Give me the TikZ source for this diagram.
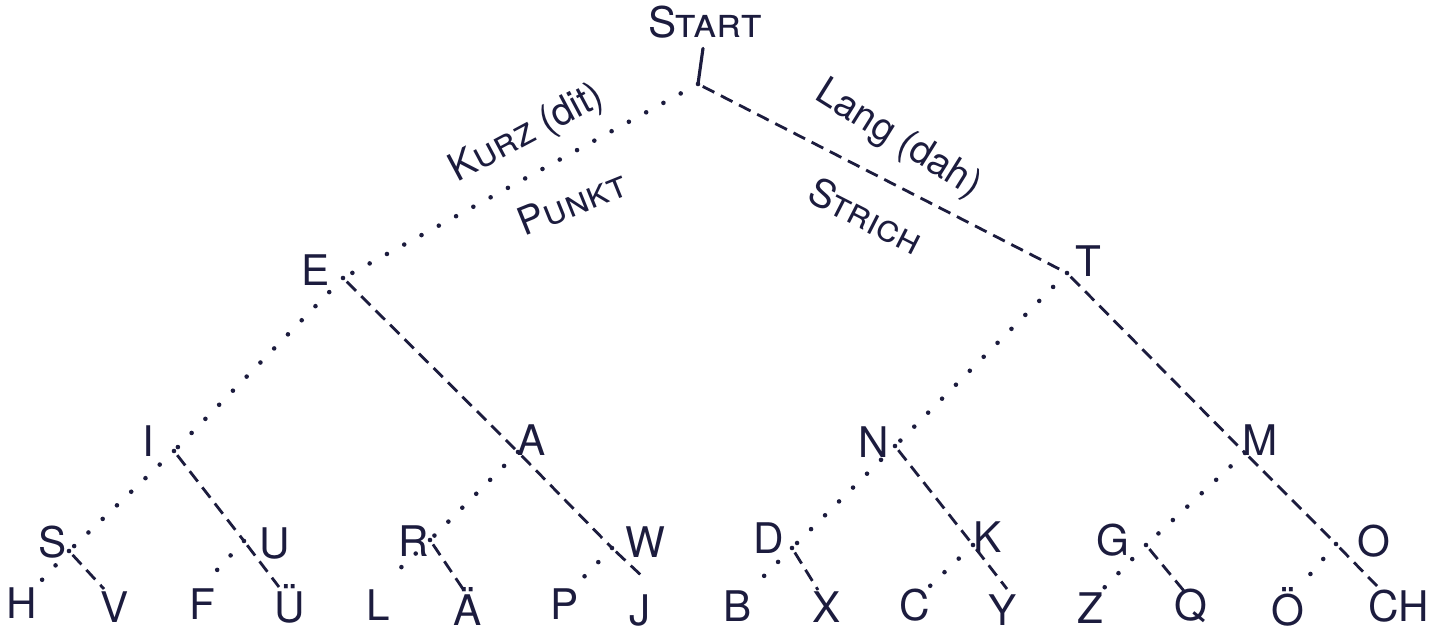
\documentclass[tikz,border=0pt]{standalone}
\usepackage{fontspec}
\setmainfont{TeX Gyre Heros}
\usepackage{tikz}
\usepackage{xcolor}
\usetikzlibrary{positioning}

\definecolor{ink}{RGB}{28,28,62}

\begin{document}
\begin{tikzpicture}[
    x=0.01cm, y=-0.01cm,
    font=\fontsize{12}{14}\selectfont,
    letter_label/.style={text=ink, inner sep=1pt},
    note_text/.style={text=ink, inner sep=1pt, font=\fontsize{11}{13}\selectfont},
    stem_line/.style={draw=ink, line width=0.9pt, line cap=round},
    dot_line/.style={draw=ink, line width=1.3pt, line cap=round, dash pattern=on 0pt off 5.6pt},
    dash_line/.style={draw=ink, line width=0.8pt, dash pattern=on 3.7pt off 2.1pt, shorten <=1.5pt}
]
\useasboundingbox (0,0) rectangle (1442,637);

% Junctions of the tree
\coordinate (root) at (698,84);
\coordinate (e) at (343,278);
\coordinate (t) at (1067,273);
\coordinate (i) at (174,451);
\coordinate (a) at (518,452);
\coordinate (n) at (895,446);
\coordinate (m) at (1245,453);
\coordinate (s) at (69,551);
\coordinate (u) at (244,541);
\coordinate (r) at (430,540);
\coordinate (w) at (612,548);
\coordinate (d) at (792,548);
\coordinate (k) at (973,545);
\coordinate (g) at (1146,545);
\coordinate (o) at (1336,544);

% Ends of the last branches
\coordinate (h_end) at (40,582);
\coordinate (v_end) at (104,589);
\coordinate (f_end) at (205,583);
\coordinate (ue_end) at (279,587);
\coordinate (l_end) at (391,577);
\coordinate (ae_end) at (463,589);
\coordinate (p_end) at (578,583);
\coordinate (j_end) at (644,578);
\coordinate (b_end) at (762,578);
\coordinate (x_end) at (818,590);
\coordinate (c_end) at (930,586);
\coordinate (y_end) at (1007,589);
\coordinate (z_end) at (1102,590);
\coordinate (q_end) at (1184,591);
\coordinate (oe_end) at (1307,578);
\coordinate (ch_end) at (1377,586);

% Start
\node[letter_label] (start) at (705,22) {\textsc{Start}};
\draw[stem_line] (start.south) ++(-2,6) -- (root);

% Letters
\node[letter_label] (lbl_e) at (316,270) {E};
\node[letter_label] (lbl_t) at (1088,261) {T};
\node[letter_label] (lbl_i) at (148,441) {I};
\node[letter_label] (lbl_a) at (532,440) {A};
\node[letter_label] (lbl_n) at (874,442) {N};
\node[letter_label] (lbl_m) at (1260,440) {M};
\node[letter_label] (lbl_s) at (53,542) {S};
\node[letter_label] (lbl_u) at (275,543) {U};
\node[letter_label] (lbl_r) at (414,541) {R};
\node[letter_label] (lbl_w) at (645,542) {W};
\node[letter_label] (lbl_d) at (769,538) {D};
\node[letter_label] (lbl_k) at (988,537) {K};
\node[letter_label] (lbl_g) at (1113,540) {G};
\node[letter_label] (lbl_o) at (1374,541) {O};

\node[letter_label] (lbl_h) at (22,603) {H};
\node[letter_label] (lbl_v) at (115,607) {V};
\node[letter_label] (lbl_f) at (202,604) {F};
\node[letter_label] (lbl_ue) at (290,604) {Ü};
\node[letter_label] (lbl_l) at (378,605) {L};
\node[letter_label] (lbl_ae) at (468,606) {Ä};
\node[letter_label] (lbl_p) at (565,604) {P};
\node[letter_label] (lbl_j) at (640,610) {J};
\node[letter_label] (lbl_b) at (738,606) {B};
\node[letter_label] (lbl_x) at (827,607) {X};
\node[letter_label] (lbl_c) at (915,605) {C};
\node[letter_label] (lbl_y) at (1003,610) {Y};
\node[letter_label] (lbl_z) at (1090,608) {Z};
\node[letter_label] (lbl_q) at (1191,606) {Q};
\node[letter_label] (lbl_oe) at (1288,607) {Ö};
\node[letter_label] (lbl_ch) at (1399,606) {CH};

% Dots (kurz)
\draw[dot_line] (root) -- (e);
\draw[dot_line] (e) -- (i);
\draw[dot_line] (i) -- (s);
\draw[dot_line] (s) -- (h_end);
\draw[dot_line] (u) -- (f_end);
\draw[dot_line] (a) -- (r);
\draw[dot_line] (r) -- (l_end);
\draw[dot_line] (w) -- (p_end);
\draw[dot_line] (t) -- (n);
\draw[dot_line] (n) -- (d);
\draw[dot_line] (d) -- (b_end);
\draw[dot_line] (k) -- (c_end);
\draw[dot_line] (m) -- (g);
\draw[dot_line] (g) -- (z_end);
\draw[dot_line] (o) -- (oe_end);

% Dashes (lang)
\draw[dash_line] (root) -- (t);
\draw[dash_line] (e) -- (a);
\draw[dash_line] (a) -- (w);
\draw[dash_line] (w) -- (j_end);
\draw[dash_line] (i) -- (u);
\draw[dash_line] (u) -- (ue_end);
\draw[dash_line] (s) -- (v_end);
\draw[dash_line] (r) -- (ae_end);
\draw[dash_line] (t) -- (m);
\draw[dash_line] (m) -- (o);
\draw[dash_line] (o) -- (ch_end);
\draw[dash_line] (n) -- (k);
\draw[dash_line] (k) -- (y_end);
\draw[dash_line] (d) -- (x_end);
\draw[dash_line] (g) -- (q_end);

% Notes on the first two branches
\node[note_text, rotate=28] (kurz) at (527,134) {\textsc{Kurz} (dit)};
\node[note_text, rotate=22] (punkt) at (572,203) {\textsc{Punkt}};
\node[note_text, rotate=-32] (lang) at (898,140) {Lang (dah)};
\node[note_text, rotate=-27] (strich) at (866,216) {\textsc{Strich}};

\end{tikzpicture}
\end{document}
